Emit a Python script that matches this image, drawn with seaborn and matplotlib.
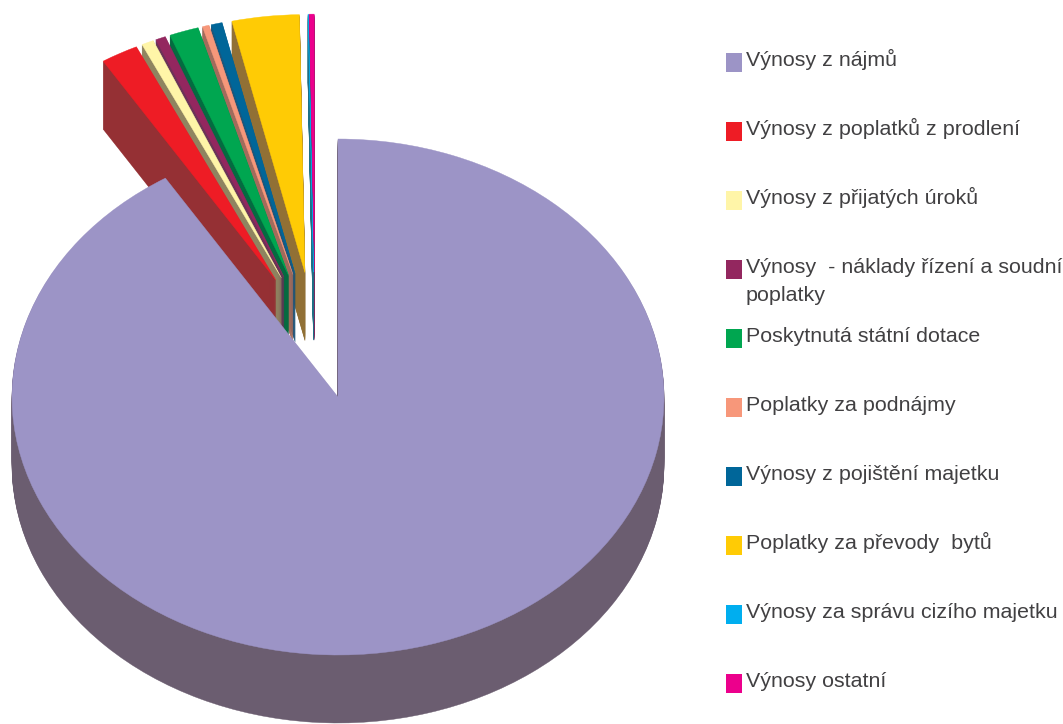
import numpy as np
import matplotlib
matplotlib.use("Agg")
import matplotlib.pyplot as plt
from matplotlib.patches import Rectangle
import seaborn as sns

labels = ["Výnosy z nájmů", "Výnosy z poplatků z prodlení", "Výnosy z přijatých úroků",
          "Výnosy  - náklady řízení a soudní\npoplatky", "Poskytnutá státní dotace",
          "Poplatky za podnájmy", "Výnosy z pojištění majetku", "Poplatky za převody  bytů",
          "Výnosy za správu cizího majetku", "Výnosy ostatní"]
values = [91.1, 1.85, 0.6, 0.5, 1.45, 0.33, 0.55, 3.33, 0.02, 0.25]
top_hex = ["#9C94C6", "#EE1C25", "#FFF5A8", "#93275F", "#00A650",
           "#F7977A", "#006699", "#FFCB05", "#00AEEF", "#EC008C"]
wall_hex = ["#6B5D70", "#953034", "#8F8460", "#6B3358", "#046B40",
            "#A26B5C", "#1F5579", "#917035", "#1F6F85", "#7A2A60"]

sns.set_theme(style="white")
plt.rcParams["font.family"] = ["Liberation Sans", "DejaVu Sans"]
top_colors = sns.color_palette(top_hex)
wall_colors = sns.color_palette(wall_hex)

W, H = 1063, 724
CX, CY, RX, RY = 338, 397, 326, 258
DEPTH = 68 / RY
GROUP_SHIFT = (-0.071, 0.234)
EXPLODE = 0.25

fig = plt.figure(figsize=(W / 100, H / 100), dpi=100)
ax = fig.add_axes([0, 0, 1, 1])

fracs = np.array(values) / sum(values)
starts = 90 - 360 * np.concatenate([[0], np.cumsum(fracs)[:-1]])


def draw_slice(i, shift, explode):
    for step in range(68, -1, -1):
        d = DEPTH * step / 68
        color = top_colors[i] if step == 0 else wall_colors[i]
        ax.pie([fracs[i]], normalize=False, startangle=starts[i], counterclock=False,
               explode=[explode], center=(shift[0], shift[1] - d), colors=[color],
               wedgeprops={"linewidth": 0.3, "edgecolor": color})


for i in range(len(values) - 1, 0, -1):
    draw_slice(i, GROUP_SHIFT, EXPLODE)
draw_slice(0, (0, 0), 0)

ax.set_aspect("auto")
ax.set_xlim(-CX / RX, (W - CX) / RX)
ax.set_ylim(-(H - CY) / RY, CY / RY)
ax.axis("off")

lax = fig.add_axes([0, 0, 1, 1])
lax.set_xlim(0, W)
lax.set_ylim(H, 0)
lax.axis("off")
lax.patch.set_alpha(0)
for k, (lab, c) in enumerate(zip(labels, top_colors)):
    lax.add_patch(Rectangle((726, 53 + 69 * k), 16, 18.5, facecolor=c, edgecolor="none"))
    for j, line in enumerate(lab.split("\n")):
        lax.text(746, 66 + 69 * k + 28 * j, line, fontsize=15.4, color="#414042", va="baseline", ha="left")

fig.savefig("out.png", dpi=100)
